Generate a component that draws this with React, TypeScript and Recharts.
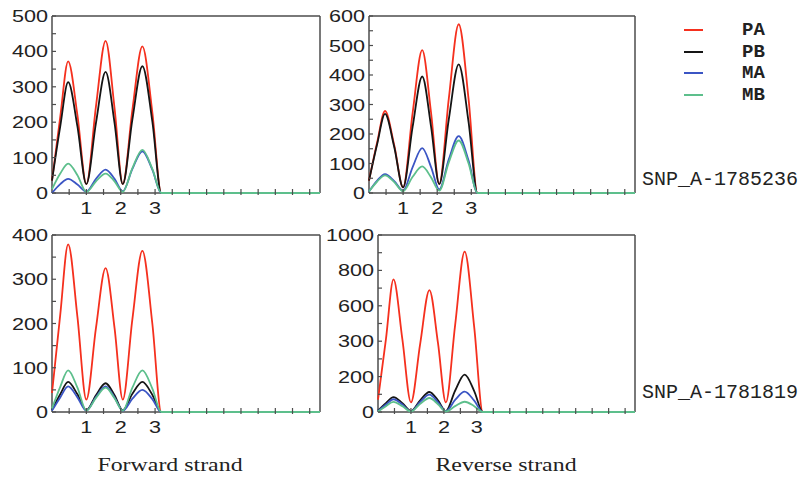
import { LineChart, Line, XAxis, YAxis, ReferenceLine } from "recharts";

// shared x positions of the sampled points (cycle 1..3, then flat to the end)
const X = [0, 0.24, 0.47, 0.74, 1.0, 1.28, 1.56, 1.82, 2.06, 2.34, 2.63, 2.92, 3.18, 7.8];
const X_TICKS = [0.5, 1, 1.5, 2, 2.5, 3, 3.5, 4, 4.5, 5, 5.5, 6, 6.5, 7, 7.5];
const X_LABELED = [1, 2, 3];

const SERIES = ["PA", "PB", "MA", "MB"];
const COLORS = ["#f5301e", "#151515", "#3b55c4", "#5dbf8c"];

// SNP_A-1785236, forward strand
const FWD1_PA = [35, 215, 372, 220, 25, 245, 430, 240, 25, 235, 414, 228, 0, 0];
const FWD1_PB = [35, 188, 313, 188, 25, 198, 342, 198, 25, 208, 358, 202, 0, 0];
const FWD1_MA = [0, 25, 40, 24, 4, 40, 66, 40, 5, 68, 118, 66, 0, 0];
const FWD1_MB = [11, 55, 83, 50, 3, 33, 55, 33, 3, 70, 122, 68, 0, 0];

// SNP_A-1785236, reverse strand
const REV1_PA = [42, 172, 278, 162, 19, 272, 484, 272, 30, 320, 572, 318, 0, 0];
const REV1_PB = [42, 166, 268, 156, 19, 225, 395, 225, 30, 250, 436, 240, 0, 0];
const REV1_MA = [5, 42, 64, 40, 8, 88, 152, 88, 12, 114, 193, 110, 0, 0];
const REV1_MB = [5, 39, 60, 37, 6, 55, 90, 53, 8, 104, 178, 100, 0, 0];

// SNP_A-1781819, forward strand
const FWD2_PA = [43, 220, 379, 215, 28, 190, 325, 190, 28, 210, 364, 200, 0, 0];
const FWD2_PB = [5, 40, 68, 40, 4, 38, 65, 38, 4, 41, 68, 39, 0, 0];
const FWD2_MA = [3, 33, 58, 33, 3, 34, 58, 33, 3, 30, 50, 29, 0, 0];
const FWD2_MB = [8, 57, 94, 55, 3, 32, 55, 31, 3, 55, 94, 53, 0, 0];

// SNP_A-1781819, reverse strand
const REV2_PA = [70, 410, 749, 410, 54, 385, 689, 390, 54, 490, 906, 480, 0, 0];
const REV2_PB = [8, 50, 84, 50, 5, 66, 113, 66, 5, 120, 211, 118, 0, 0];
const REV2_MA = [5, 42, 72, 42, 4, 57, 98, 55, 4, 68, 115, 64, 0, 0];
const REV2_MB = [3, 33, 57, 33, 3, 46, 79, 44, 3, 33, 58, 33, 0, 0];

// y ticks
const Y_TICKS_500 = [0, 50, 100, 150, 200, 250, 300, 350, 400, 450, 500];
const Y_MAJOR_500 = [0, 100, 200, 300, 400, 500];
const Y_TEXT_500 = ["0", "100", "200", "300", "400", "500"];
const Y_TICKS_600 = [0, 50, 100, 150, 200, 250, 300, 350, 400, 450, 500, 550, 600];
const Y_MAJOR_600 = [0, 100, 200, 300, 400, 500, 600];
const Y_TEXT_600 = ["0", "100", "200", "300", "400", "500", "600"];
const Y_TICKS_400 = [0, 50, 100, 150, 200, 250, 300, 350, 400];
const Y_MAJOR_400 = [0, 100, 200, 300, 400];
const Y_TEXT_400 = ["0", "100", "200", "300", "400"];
const Y_TICKS_1000 = [0, 100, 200, 300, 400, 500, 600, 700, 800, 900, 1000];
const Y_MAJOR_1000 = [0, 200, 400, 600, 800, 1000];
const Y_TEXT_1000 = ["0", "200", "300", "600", "800", "1000"];

const SNP_LABELS = ["SNP_A-1785236", "SNP_A-1781819"];
const STRAND_LABELS = ["Forward strand", "Reverse strand"];

const FRAME = "#4d4d4d";
const SX = 1.27; // the original figure is stretched horizontally
const SANS = "'Liberation Sans', Arial, sans-serif";
const MONO = "'Liberation Mono', 'DejaVu Sans Mono', monospace";

const makeRows = (pa: number[], pb: number[], ma: number[], mb: number[]) =>
  X.map((x, i) => ({ x, PA: pa[i], PB: pb[i], MA: ma[i], MB: mb[i] }));

interface Panel {
  left: number;
  top: number;
  w: number;
  h: number;
  yMax: number;
  yTicks: number[];
  yMajor: number[];
  yText: string[];
  rows: any[];
}

const PLOT_H = 177;
const PANELS: Panel[] = [
  { left: 52, top: 16, w: 268, h: PLOT_H, yMax: 500, yTicks: Y_TICKS_500, yMajor: Y_MAJOR_500, yText: Y_TEXT_500, rows: makeRows(FWD1_PA, FWD1_PB, FWD1_MA, FWD1_MB) },
  { left: 369, top: 16, w: 266, h: PLOT_H, yMax: 600, yTicks: Y_TICKS_600, yMajor: Y_MAJOR_600, yText: Y_TEXT_600, rows: makeRows(REV1_PA, REV1_PB, REV1_MA, REV1_MB) },
  { left: 52, top: 235, w: 268, h: PLOT_H, yMax: 400, yTicks: Y_TICKS_400, yMajor: Y_MAJOR_400, yText: Y_TEXT_400, rows: makeRows(FWD2_PA, FWD2_PB, FWD2_MA, FWD2_MB) },
  { left: 378, top: 235, w: 257, h: PLOT_H, yMax: 1000, yTicks: Y_TICKS_1000, yMajor: Y_MAJOR_1000, yText: Y_TEXT_1000, rows: makeRows(REV2_PA, REV2_PB, REV2_MA, REV2_MB) },
];

const Y_W = 52;
const M_TOP = 12;
const X_H = 30;

function SnpPanel({ p }: { p: Panel }) {
  const leftTick = (props: any) => {
    const { x, y, payload } = props;
    const idx = p.yMajor.indexOf(payload.value);
    return (
      <g>
        <line x1={x + 4} y1={y} x2={x + 8} y2={y} stroke={FRAME} strokeWidth={1.2} />
        {idx >= 0 && (
          <text
            transform={`translate(${x},${y + 6}) scale(${SX},1)`}
            textAnchor="end"
            fontSize={17}
            fontFamily={SANS}
            fill="#222"
          >
            {p.yText[idx]}
          </text>
        )}
      </g>
    );
  };
  const rightTick = (props: any) => {
    const { x, y } = props;
    return <line x1={x - 4} y1={y} x2={x} y2={y} stroke={FRAME} strokeWidth={1.2} />;
  };
  const bottomTick = (props: any) => {
    const { x, y, payload } = props;
    const labeled = X_LABELED.includes(payload.value);
    return (
      <g>
        <line x1={x} y1={y + 2} x2={x} y2={y - 4} stroke={FRAME} strokeWidth={1.2} />
        {labeled && (
          <text
            transform={`translate(${x},${y + 21}) scale(${SX},1)`}
            textAnchor="middle"
            fontSize={17}
            fontFamily={SANS}
            fill="#222"
          >
            {payload.value}
          </text>
        )}
      </g>
    );
  };

  return (
    <div style={{ position: "absolute", left: p.left - Y_W, top: p.top - M_TOP }}>
      <LineChart
        width={Y_W + p.w + 4}
        height={M_TOP + p.h + X_H}
        data={p.rows}
        margin={{ top: M_TOP, right: 2, bottom: 0, left: 0 }}
      >
        <XAxis
          dataKey="x"
          type="number"
          domain={[0, 7.8]}
          ticks={X_TICKS}
          interval={0}
          tickSize={0}
          tickMargin={0}
          tickLine={false}
          axisLine={{ stroke: FRAME, strokeWidth: 1.5 }}
          tick={bottomTick}
          height={X_H}
        />
        <YAxis
          yAxisId="l"
          type="number"
          domain={[0, p.yMax]}
          ticks={p.yTicks}
          interval={0}
          tickSize={0}
          tickMargin={4}
          tickLine={false}
          axisLine={{ stroke: FRAME, strokeWidth: 1.5 }}
          tick={leftTick}
          width={Y_W}
        />
        <YAxis
          yAxisId="r"
          orientation="right"
          type="number"
          domain={[0, p.yMax]}
          ticks={p.yTicks}
          interval={0}
          tickSize={0}
          tickMargin={0}
          tickLine={false}
          axisLine={{ stroke: FRAME, strokeWidth: 1.5 }}
          tick={rightTick}
          width={2}
        />
        <ReferenceLine yAxisId="l" y={p.yMax} stroke={FRAME} strokeWidth={1.5} />
        {SERIES.map((s, i) => (
          <Line
            key={s}
            yAxisId="l"
            dataKey={s}
            type="monotone"
            stroke={COLORS[i]}
            strokeWidth={1.8}
            dot={false}
            isAnimationActive={false}
            zIndex={700}
          />
        ))}
      </LineChart>
    </div>
  );
}

export default function App() {
  return (
    <div style={{ position: "absolute", left: 0, top: 0, width: 801, height: 479, background: "#fff", overflow: "hidden" }}>
      {PANELS.map((p, i) => (
        <SnpPanel key={i} p={p} />
      ))}

      {/* legend */}
      {SERIES.map((s, i) => (
        <div key={s} style={{ position: "absolute", left: 684, top: 30 + i * 21.7 - 11, height: 22, display: "flex", alignItems: "center" }}>
          <div style={{ width: 19, height: 2, background: COLORS[i] }} />
          <div style={{ marginLeft: 39, fontFamily: MONO, fontWeight: "bold", fontSize: 19, lineHeight: "22px", color: "#222" }}>{s}</div>
        </div>
      ))}

      {/* SNP ids */}
      {SNP_LABELS.map((t, i) => (
        <div key={t} style={{ position: "absolute", left: 642, top: (i === 0 ? 180 : 393) - 12, fontFamily: MONO, fontSize: 20, lineHeight: "24px", color: "#222", whiteSpace: "nowrap" }}>
          {t}
        </div>
      ))}

      {/* strand captions */}
      {STRAND_LABELS.map((t, i) => (
        <div
          key={t}
          style={{
            position: "absolute",
            left: i === 0 ? 169.5 : 506,
            top: 454,
            transform: `translateX(-50%) scaleX(1.29)`,
            fontFamily: "'Liberation Serif', 'Times New Roman', serif",
            fontSize: 18.5,
            lineHeight: "22px",
            color: "#222",
            whiteSpace: "nowrap",
          }}
        >
          {t}
        </div>
      ))}
    </div>
  );
}
